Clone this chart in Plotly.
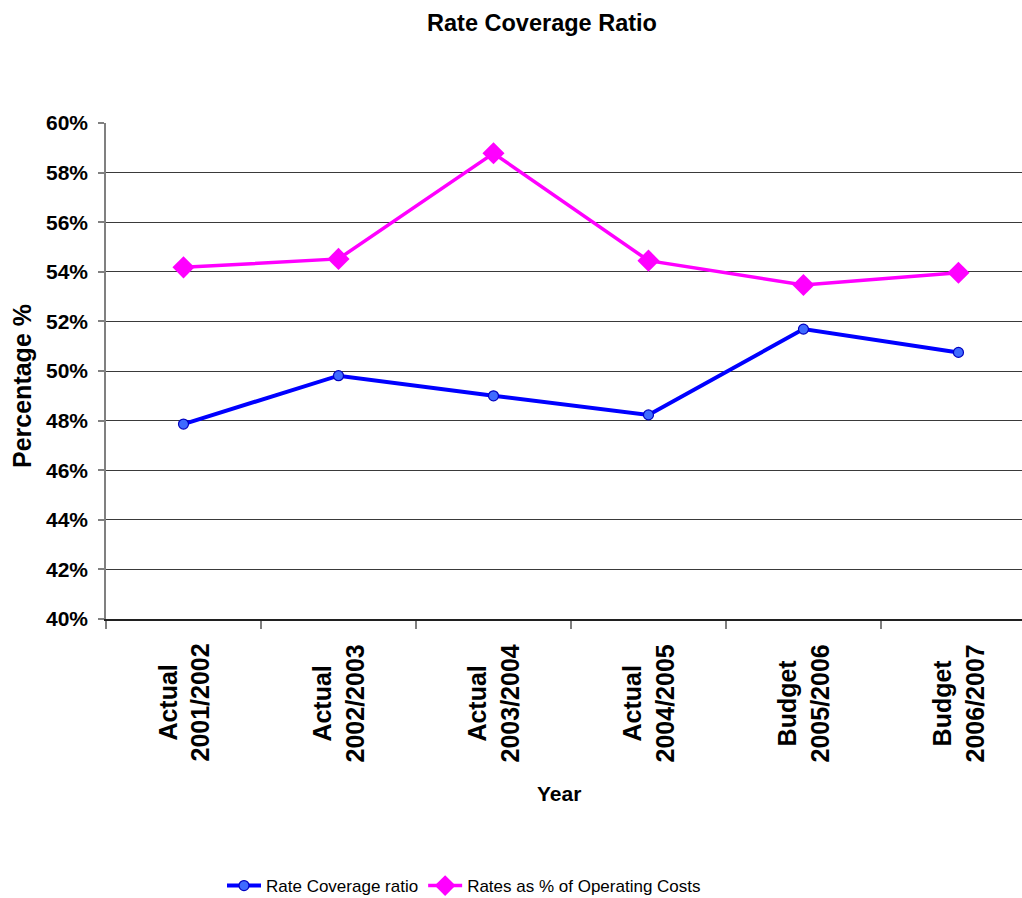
import plotly.graph_objects as go

# Financial years on the category axis
years = ["Actual 2001/2002", "Actual 2002/2003", "Actual 2003/2004",
         "Actual 2004/2005", "Budget 2005/2006", "Budget 2006/2007"]
year_labels = ["Actual<br>2001/2002", "Actual<br>2002/2003", "Actual<br>2003/2004",
               "Actual<br>2004/2005", "Budget<br>2005/2006", "Budget<br>2006/2007"]

# Series values in percent
rate_coverage = [47.86, 49.81, 49.00, 48.23, 51.69, 50.75]
rates_pct_opex = [54.18, 54.52, 58.78, 54.45, 53.47, 53.96]

y_ticks = [40, 42, 44, 46, 48, 50, 52, 54, 56, 58, 60]
y_tick_text = [f"{v}%" for v in y_ticks]

FONT = "Liberation Sans, Arial, sans-serif"

fig = go.Figure()
fig.add_trace(go.Scatter(
    x=years, y=rate_coverage, name="Rate Coverage ratio",
    mode="lines+markers",
    line=dict(color="#0000FF", width=4),
    marker=dict(symbol="circle", size=10, color="#3F6BFF",
                line=dict(color="#0000C0", width=1.2)),
))
fig.add_trace(go.Scatter(
    x=years, y=rates_pct_opex, name="Rates as % of Operating Costs",
    mode="lines+markers",
    line=dict(color="#FF00FF", width=3.5),
    marker=dict(symbol="diamond", size=17, color="#FF00FF",
                line=dict(width=0)),
))

W, H = 1022, 898
L, R, T, B = 106, 0, 123, 279
plot_w = W - L - R
plot_h = H - T - B

# Category labels written sideways under each tick slot
for yr, lab in zip(years, year_labels):
    fig.add_annotation(
        x=yr, xref="x", y=(0 - 84) / plot_h, yref="paper",
        text=lab, textangle=-90, showarrow=False,
        xanchor="center", yanchor="middle", align="center",
        font=dict(family=FONT, size=25, color="black", weight="bold"),
    )

# Axis titles
fig.add_annotation(
    x=(22 - L) / plot_w, xref="paper", y=(619 - 386) / plot_h, yref="paper",
    text="Percentage %", textangle=-90, showarrow=False,
    xanchor="center", yanchor="middle",
    font=dict(family=FONT, size=25, color="black", weight="bold"),
)
fig.add_annotation(
    x=(559 - L) / plot_w, xref="paper", y=(619 - 793) / plot_h, yref="paper",
    text="Year", showarrow=False, xanchor="center", yanchor="middle",
    font=dict(family=FONT, size=21, color="black", weight="bold"),
)

fig.update_layout(
    width=W, height=H,
    margin=dict(l=L, r=R, t=T, b=B, pad=0, autoexpand=False),
    paper_bgcolor="white", plot_bgcolor="white",
    title=dict(text="Rate Coverage Ratio", x=542 / W, xanchor="center",
               y=1 - 23 / H, yanchor="middle",
               font=dict(family=FONT, size=23.5, color="black", weight="bold")),
    showlegend=True,
    legend=dict(orientation="h", x=(222 - L) / plot_w, xanchor="left",
                y=(619 - 886) / plot_h, yanchor="middle",
                font=dict(family=FONT, size=17, color="black"),
                itemwidth=34, tracegroupgap=0),
    xaxis=dict(
        type="category", range=[-0.5, 5.41],
        showticklabels=False, tickson="boundaries",
        ticks="outside", ticklen=8, tickcolor="#808080", tickwidth=1.5,
        showgrid=False, showline=True, linecolor="#202020", linewidth=1.5,
        zeroline=False,
    ),
    yaxis=dict(
        range=[40, 60], tickmode="array", tickvals=y_ticks, ticktext=y_tick_text,
        ticks="outside", ticklen=6, tickcolor="#808080", tickwidth=1.5,
        ticklabelstandoff=6,
        tickfont=dict(family=FONT, size=21, color="black", weight="bold"),
        showgrid=True, gridcolor="#3A3A3A", gridwidth=1.2,
        showline=True, linecolor="#808080", linewidth=1.5,
        zeroline=False,
    ),
)

fig.write_html("out.html")
